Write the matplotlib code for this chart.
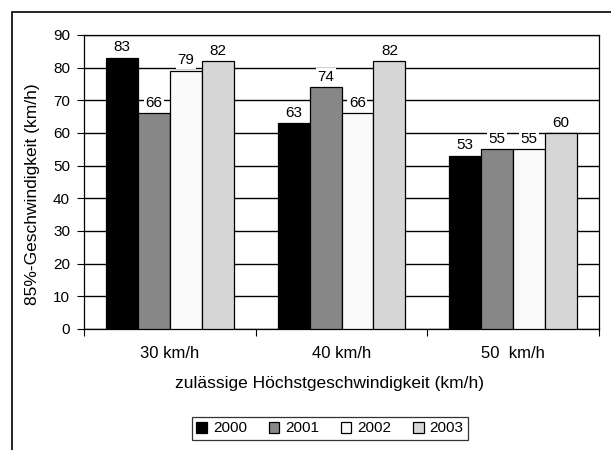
import numpy as np
import matplotlib.pyplot as plt
from matplotlib.patches import Rectangle

plt.rcParams['font.family'] = ['Liberation Sans', 'DejaVu Sans']

# speed limits and 85th percentile speeds per year
categories = ['30 km/h', '40 km/h', '50  km/h']
years = ['2000', '2001', '2002', '2003']
v2000 = [83, 63, 53]
v2001 = [66, 74, 55]
v2002 = [79, 66, 55]
v2003 = [82, 82, 60]
series = [v2000, v2001, v2002, v2003]
colors = ['#000000', '#878787', '#fafafa', '#d6d6d6']

fig = plt.figure(figsize=(6.11, 4.5), dpi=100)
ax = fig.add_axes([84/611, 1 - 329/450, (599-84)/611, (329-35)/450])

# outer frame of the figure (right and bottom edges run off the page)
fig.patches.append(Rectangle((12/611, -0.1), 1.2, (450-12)/450 + 0.1,
                             transform=fig.transFigure, fill=False,
                             edgecolor='black', lw=1.2))

x = np.arange(len(categories))
w = 0.186
for i, (vals, c) in enumerate(zip(series, colors)):
    pos = x + (i - 1.5) * w
    ax.bar(pos, vals, width=w, color=c, edgecolor='black', linewidth=0.9,
           label=years[i], zorder=3)
    for px, v in zip(pos, vals):
        ax.annotate(str(v), (px, v), xytext=(0, 2.5), textcoords='offset points',
                    ha='center', va='bottom', fontsize=11, zorder=4,
                    bbox=dict(boxstyle='square,pad=0.1', fc='white', ec='none'))

ax.set_ylim(0, 90)
ax.set_xlim(-0.5, 2.5)
ax.set_yticks(range(0, 91, 10))
ax.yaxis.grid(True, color='black', lw=1)
ax.set_axisbelow(True)

ax.set_xticks(x)
ax.set_xticklabels(categories, fontsize=12)
ax.set_xticks([-0.5, 0.5, 1.5, 2.5], minor=True)
ax.tick_params(axis='x', which='major', length=0, pad=12)
ax.tick_params(axis='x', which='minor', length=5, width=0.8, direction='out')
ax.tick_params(axis='y', length=5, width=0.8, labelsize=11, pad=5)

for s in ax.spines.values():
    s.set_color('black')
    s.set_linewidth(0.9)

ax.set_ylabel('85%-Geschwindigkeit (km/h)', fontsize=12.5)
ax.yaxis.set_label_coords(-0.085, 0.46)
ax.set_xlabel('zulässige Höchstgeschwindigkeit (km/h)', fontsize=12.5)
ax.xaxis.set_label_coords(0.476, -0.16)

leg = fig.legend(loc='center', bbox_to_anchor=(330/611, 1 - 428.5/450), ncol=4,
                 fontsize=11, frameon=True, fancybox=False, edgecolor='black',
                 handlelength=0.7, handleheight=0.7, handletextpad=0.4,
                 columnspacing=1.4, borderpad=0.3)
leg.get_frame().set_linewidth(0.9)

fig.savefig('out.png', dpi=100)
